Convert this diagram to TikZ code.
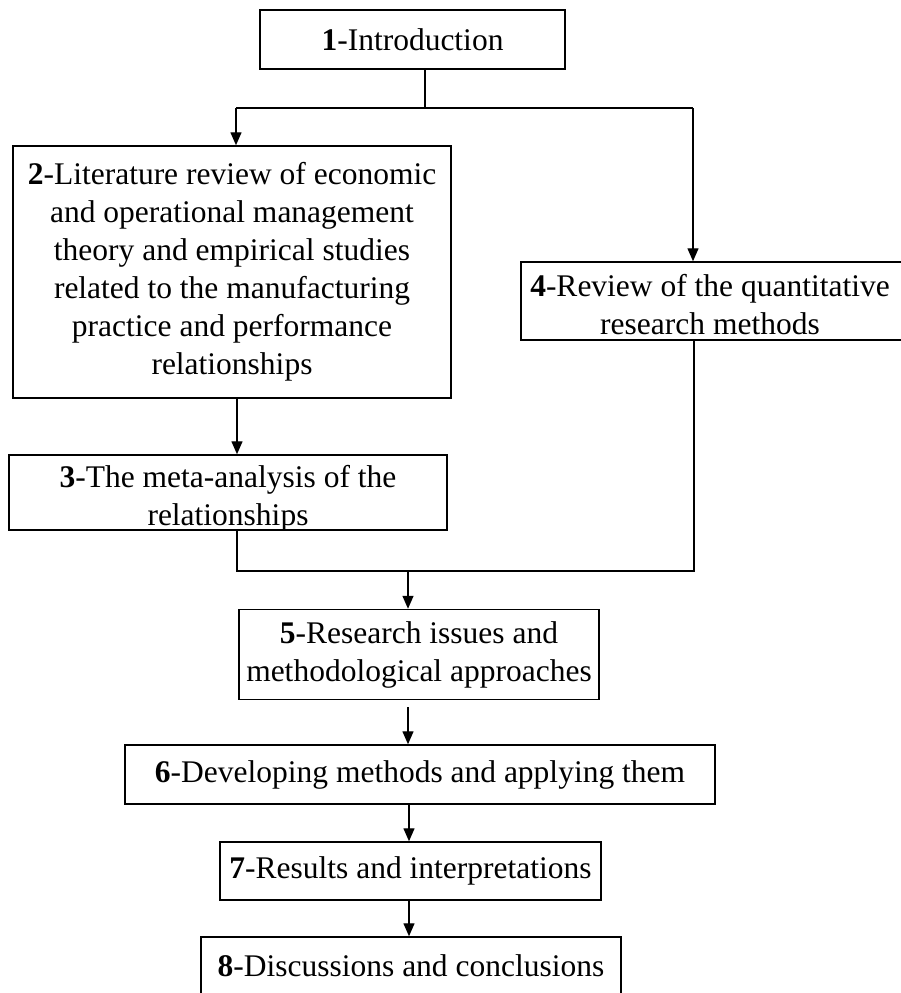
\documentclass[tikz,border=0pt]{standalone}
\usepackage{fontspec}
\setmainfont{Liberation Serif}
\usetikzlibrary{arrows.meta}
\begin{document}
\begin{tikzpicture}[x=1pt,y=-1pt,
  txt/.style={inner sep=0pt, align=center, font=\fontsize{31.5}{38}\selectfont},
  box/.style={txt, draw, line width=1.5pt},
  flow/.style={line width=1.4pt},
  arr/.style={flow, -{Triangle[length=13pt,width=11pt]}}]
\useasboundingbox (0,0) rectangle (900,993);

% boxes
\node[box, minimum width=305pt, minimum height=59pt] (n1) at (412.5,39.5) {\textbf{1}-Introduction};
\node[box, minimum width=438pt, minimum height=252pt] (n2) at (232,272)
  {\textbf{2}-Literature review of economic\\and operational management\\theory and empirical studies\\related to the manufacturing\\practice and performance\\relationships};
\node[box, minimum width=438pt, minimum height=75pt] (n3) at (228,492.5) {};
\begin{scope}
  \clip (n3.south west) rectangle (n3.north east);
  \node[txt] (t3) at (228,499) {\textbf{3}-The meta-analysis of the\\relationships};
\end{scope}
\node[box, minimum width=381pt, minimum height=78pt] (n4) at (711.5,301) {};
\node[txt] (t4) at (710,305) {\textbf{4}-Review of the quantitative\\research methods};
\node[box, minimum width=360pt, minimum height=90pt] (n5) at (419,654.5)
  {\textbf{5}-Research issues and\\methodological approaches};
\node[box, minimum width=590pt, minimum height=59pt] (n6) at (420,774.5)
  {\textbf{6}-Developing methods and applying them};
\node[box, minimum width=381pt, minimum height=58pt] (n7) at (410.5,871)
  {\textbf{7}-Results and interpretations};
\node[box, minimum width=420pt, minimum height=58pt] (n8) at (411,966)
  {\textbf{8}-Discussions and conclusions};

% junction points of the connectors
\coordinate (split) at (425,108);
\coordinate (splitL) at (236,108);
\coordinate (splitR) at (693,108);
\coordinate (mergeL) at (237,571);
\coordinate (mergeR) at (694,571);
\coordinate (merge) at (408,571);
\coordinate (axis) at (409,0);

% connectors
\draw[flow] (n1.south -| split) -- (split);
\draw[flow] (splitL) -- (splitR);
\draw[arr] (splitL) -- (splitL |- n2.north);
\draw[arr] (splitR) -- (splitR |- n4.north);
\draw[arr] (n2.south -| mergeL) -- (n3.north -| mergeL);
\draw[flow] (n3.south -| mergeL) -- (mergeL) -- (mergeR) -- (n4.south -| mergeR);
\draw[arr] (merge) -- (merge |- n5.north);
\draw[arr, shorten <=7pt] (n5.south -| merge) -- (n6.north -| merge);
\draw[arr] (n6.south -| axis) -- (n7.north -| axis);
\draw[arr] (n7.south -| axis) -- (n8.north -| axis);
\end{tikzpicture}
\end{document}
